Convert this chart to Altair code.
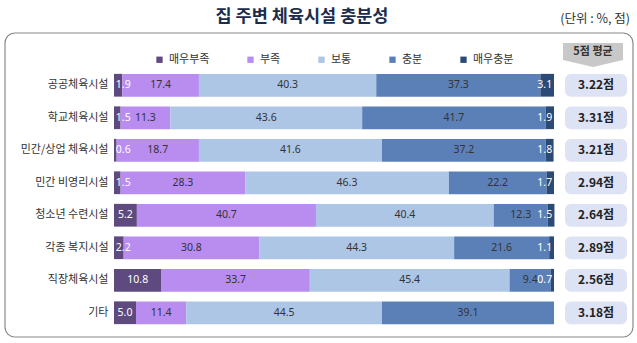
import altair as alt
import pandas as pd

categories = ["공공체육시설", "학교체육시설", "민간/상업 체육시설", "민간 비영리시설",
              "청소년 수련시설", "각종 복지시설", "직장체육시설", "기타"]
levels = ["매우부족", "부족", "보통", "충분", "매우충분"]
very_low = [1.9, 1.5, 0.6, 1.5, 5.2, 2.2, 10.8, 5.0]
low = [17.4, 11.3, 18.7, 28.3, 40.7, 30.8, 33.7, 11.4]
normal = [40.3, 43.6, 41.6, 46.3, 40.4, 44.3, 45.4, 44.5]
enough = [37.3, 41.7, 37.2, 22.2, 12.3, 21.6, 9.4, 39.1]
very_enough = [3.1, 1.9, 1.8, 1.7, 1.5, 1.1, 0.7, None]
scores = [3.22, 3.31, 3.21, 2.94, 2.64, 2.89, 2.56, 3.18]
level_colors = ["#5e4a7e", "#b98cf0", "#adc6e5", "#5b80b8", "#2b4b76"]

series = [very_low, low, normal, enough, very_enough]
rows = []
for i, cat in enumerate(categories):
    for j, lev in enumerate(levels):
        v = series[j][i]
        if v is None:
            continue
        rows.append({"cat": cat, "level": lev, "ord": j, "value": v, "label": f"{v:.1f}"})
df = pd.DataFrame(rows)

score_df = pd.DataFrame({"cat": categories, "score": scores,
                         "label": [f"{s:.2f}점" for s in scores]})
one = pd.DataFrame({"k": [0]})

KR = "Noto Sans CJK KR"
xscale = alt.Scale(domain=[0, 118.18], nice=False, zero=True)
yenc = alt.Y("cat:N", sort=categories,
             scale=alt.Scale(paddingInner=0.3, paddingOuter=0.15),
             axis=alt.Axis(title=None, ticks=False, domain=False, labelPadding=6,
                           labelFontSize=11, labelFont=KR, labelColor="#333333"))

base = alt.Chart(df).transform_stack(
    stack="value", groupby=["cat"], as_=["x0", "x1"],
    sort=[alt.SortField("ord", order="ascending")]
).transform_calculate(
    lx="datum.ord == 0 ? max((datum.x0 + datum.x1) / 2, 2.1) : "
       "(datum.ord == 4 ? min((datum.x0 + datum.x1) / 2, 97.9) : (datum.x0 + datum.x1) / 2)"
)

bars = base.mark_bar().encode(
    x=alt.X("x0:Q", scale=xscale, axis=None),
    x2="x1:Q",
    y=yenc,
    color=alt.Color("level:N", sort=levels,
                    scale=alt.Scale(domain=levels, range=level_colors),
                    legend=alt.Legend(title=None, orient="none", direction="horizontal",
                                      legendX=40, legendY=-15, padding=0,
                                      symbolType="square", symbolSize=40,
                                      symbolStrokeWidth=0, labelOffset=4,
                                      columnPadding=35, labelFont=KR,
                                      labelFontSize=11, labelColor="#333333")),
)

labels_white = base.transform_filter("datum.ord == 0 || datum.ord == 4").mark_text(
    font="Noto Sans", fontSize=10.5, color="#ffffff"
).encode(x="lx:Q", y=alt.Y("cat:N", sort=categories), text="label:N")

labels_dark = base.transform_filter("datum.ord > 0 && datum.ord < 4").mark_text(
    font="Noto Sans", fontSize=10.5, color="#333333"
).encode(x="lx:Q", y=alt.Y("cat:N", sort=categories), text="label:N")

score_box = alt.Chart(score_df).mark_bar(cornerRadius=6, color="#dde3f4").encode(
    x=alt.datum(102.5), x2=alt.datum(116.6), y=alt.Y("cat:N", sort=categories))
score_text = alt.Chart(score_df).mark_text(
    font=KR, fontSize=12, fontWeight="bold", color="#222222"
).encode(x=alt.datum(109.55), y=alt.Y("cat:N", sort=categories), text="label:N")

header_shape = alt.Chart(one).mark_point(
    shape="M-1,-0.4L1,-0.4L1,0.17L0,0.4L-1,0.17Z", filled=True, size=3600,
    color="#c8c8c8", opacity=1, strokeWidth=0
).encode(x=alt.value(479), y=alt.value(-14))
header_text = alt.Chart(one).mark_text(
    text="5점 평균", font=KR, fontSize=11, fontWeight="bold", color="#333333"
).encode(x=alt.value(479), y=alt.value(-17))

border = alt.Chart(one).mark_rect(
    filled=False, stroke="#8a8a8a", strokeWidth=1.2, cornerRadius=10
).encode(x=alt.value(-109), x2=alt.value(519), y=alt.value(-36), y2=alt.value(268))

title = alt.Chart(one).mark_text(
    text="집 주변 체육시설 충분성", font=KR, fontSize=17.5, fontWeight="bold",
    color="#1c2c4c"
).encode(x=alt.value(188), y=alt.value(-52))
unit = alt.Chart(one).mark_text(
    text="(단위 : %, 점)", font=KR, fontSize=12.5, color="#333333", align="right"
).encode(x=alt.value(516), y=alt.value(-50))

chart = alt.layer(
    border, bars, labels_white, labels_dark, score_box, score_text,
    header_shape, header_text, title, unit
).properties(
    width=520, height=260,
    autosize=alt.AutoSizeParams(type="none"),
    padding={"left": 114, "top": 69, "right": 3, "bottom": 14},
    background="white",
).configure_view(stroke=None)

chart.save("out.html", embed_options={"renderer": "svg", "actions": False})
